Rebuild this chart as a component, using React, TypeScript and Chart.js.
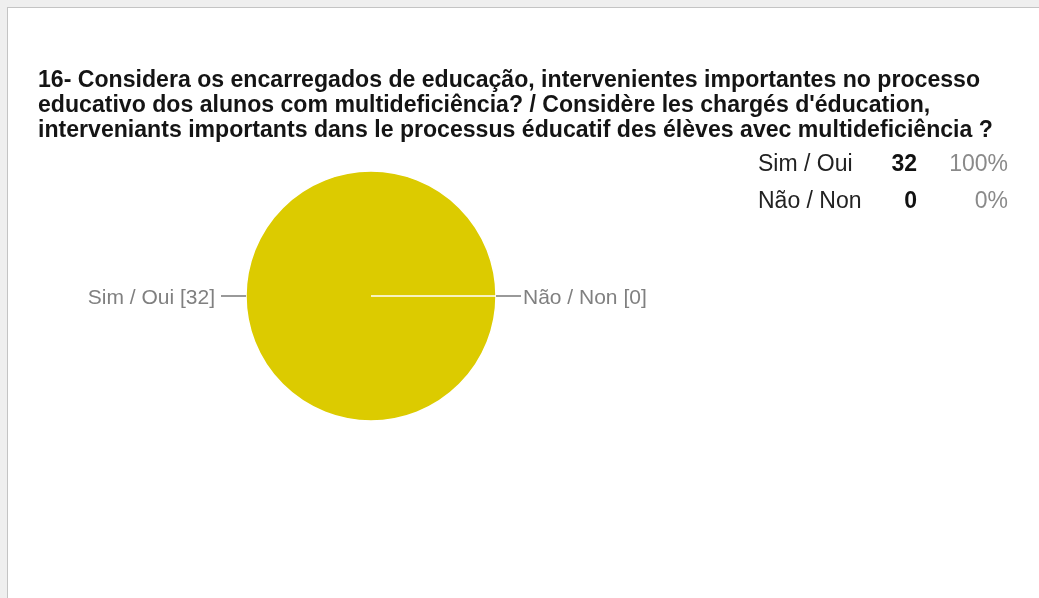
import React, { useEffect, useRef } from "react";
import { Chart, registerables } from "chart.js";

Chart.register(...registerables);

const TITLE_LINES = [
  "16- Considera os encarregados de educação, intervenientes importantes no processo",
  "educativo dos alunos com multideficiência? / Considère les chargés d'éducation,",
  "interveniants importants dans le processus éducatif des élèves avec multideficiência ?",
];
const LABELS = ["Sim / Oui", "Não / Non"];
const VALUES = [32, 0];
const COLORS = ["#DCCB00", "#3366CC"];

const FONT = "'Liberation Sans', Arial, Helvetica, sans-serif";

const leaderPlugin = {
  id: "leaders",
  afterDatasetsDraw(chart: any) {
    const meta = chart.getDatasetMeta(0);
    const ctx = chart.ctx as CanvasRenderingContext2D;
    ctx.save();
    meta.data.forEach((arc: any, i: number) => {
      const { x, y, startAngle, endAngle, outerRadius } = arc.getProps(
        ["x", "y", "startAngle", "endAngle", "outerRadius"],
        true
      );
      const mid = (startAngle + endAngle) / 2;
      const c = Math.cos(mid);
      const s = Math.sin(mid);
      const x0 = x + c * outerRadius;
      const y0 = y + s * outerRadius;
      const x1 = x + c * (outerRadius + 25);
      const y1 = y + s * (outerRadius + 25);
      ctx.strokeStyle = "#777777";
      ctx.lineWidth = 1.5;
      ctx.beginPath();
      ctx.moveTo(x0, y0);
      ctx.lineTo(x1, y1);
      ctx.stroke();
      ctx.fillStyle = "#808080";
      ctx.font = `21px ${FONT}`;
      ctx.textBaseline = "alphabetic";
      const text = `${LABELS[i]} [${VALUES[i]}]`;
      if (c < 0) {
        ctx.textAlign = "right";
        ctx.fillText(text, x1 - 6, y1 + 7.5);
      } else {
        ctx.textAlign = "left";
        ctx.fillText(text, x1 + 2, y1 + 7.5);
      }
    });
    ctx.restore();
  },
};

export default function App() {
  const ref = useRef<HTMLCanvasElement | null>(null);
  useEffect(() => {
    if (!ref.current) return;
    const chart = new Chart(ref.current, {
      type: "pie",
      data: {
        labels: LABELS,
        datasets: [
          {
            data: VALUES,
            backgroundColor: COLORS,
            borderColor: "#ffffff",
            borderWidth: 1.5,
          },
        ],
      },
      options: {
        responsive: false,
        animation: false,
        rotation: 90,
        radius: 125,
        layout: { padding: { left: 121, right: 418, top: 171, bottom: 177 } },
        plugins: {
          legend: { display: false },
          tooltip: { enabled: false },
          title: { display: false },
        },
      },
      plugins: [leaderPlugin],
    } as any);
    return () => chart.destroy();
  }, []);

  const total = VALUES.reduce((a, b) => a + b, 0);

  return (
    <div
      style={{
        position: "fixed",
        left: 0,
        top: 0,
        width: 1039,
        height: 598,
        background: "#efefef",
        overflow: "hidden",
        fontFamily: FONT,
      }}
    >
      <div
        style={{
          position: "absolute",
          left: 7,
          top: 7,
          right: 0,
          bottom: 0,
          background: "#ffffff",
          borderTop: "1px solid #c4c4c4",
          borderLeft: "1px solid #c4c4c4",
        }}
      />
      <canvas
        ref={ref}
        width={1039}
        height={598}
        style={{ position: "absolute", left: 0, top: 0, width: 1039, height: 598 }}
      />
      <div
        style={{
          position: "absolute",
          left: 38,
          top: 67,
          fontSize: 23.1,
          lineHeight: "24.8px",
          fontWeight: "bold",
          color: "#141414",
          whiteSpace: "nowrap",
        }}
      >
        {TITLE_LINES.map((l, i) => (
          <div key={i}>{l}</div>
        ))}
      </div>
      {LABELS.map((lab, i) => {
        const top = 151.5 + i * 37;
        return (
          <React.Fragment key={lab}>
            <div
              style={{
                position: "absolute",
                left: 758,
                top,
                fontSize: 23,
                lineHeight: "23px",
                color: "#222222",
                whiteSpace: "nowrap",
              }}
            >
              {lab}
            </div>
            <div
              style={{
                position: "absolute",
                right: 1039 - 917,
                top,
                fontSize: 23,
                lineHeight: "23px",
                fontWeight: "bold",
                color: "#111111",
                textAlign: "right",
              }}
            >
              {VALUES[i]}
            </div>
            <div
              style={{
                position: "absolute",
                right: 1039 - 1008,
                top,
                fontSize: 23,
                lineHeight: "23px",
                color: "#8a8a8a",
                textAlign: "right",
              }}
            >
              {Math.round((VALUES[i] / total) * 100)}%
            </div>
          </React.Fragment>
        );
      })}
    </div>
  );
}
